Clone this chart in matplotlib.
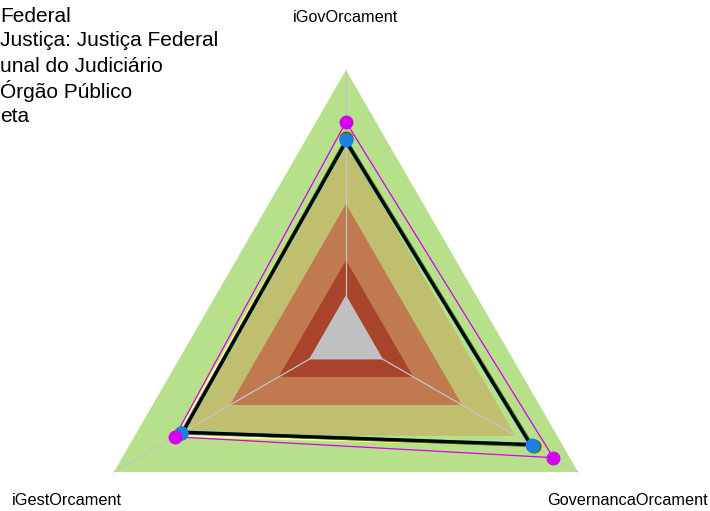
import numpy as np
import matplotlib
matplotlib.use("Agg")
import matplotlib.pyplot as plt

plt.rcParams['font.family'] = ['Liberation Sans', 'DejaVu Sans']

# axes of the radar, clockwise from the top
eixos = ["iGovOrcament", "GovernancaOrcament", "iGestOrcament"]
angulos = np.deg2rad([90, -30, 210])

# background bands (outer limit of each level)
faixas = [1.0, 0.73, 0.50, 0.29, 0.16]
cores_faixas = ["#b7e08b", "#c0bf70", "#c17a50", "#a8432c", "#c0c0c0"]

# visible part of the legend (cut at the left edge)
legenda = ["Federal", "Justiça: Justiça Federal", "unal do Judiciário",
           "Órgão Público", "eta"]

# series values, order of eixos
meta = [0.806, 0.893, 0.737]
serie_amarela = [0.738, 0.803, 0.735]
serie_branca = [0.736, 0.800, 0.728]
serie_vermelha = [0.745, 0.808, 0.712]
serie_verde = [0.743, 0.806, 0.711]
serie_ciano = [0.724, 0.786, 0.696]
serie_azul = [0.739, 0.800, 0.710]
serie_preta = [0.733, 0.795, 0.703]

series = [
    (serie_amarela, "#ffff40", 1.0, None),
    (serie_branca, "#ffffff", 0.8, None),
    (serie_vermelha, "#c01010", 1.1, "o"),
    (serie_verde, "#10b010", 1.1, "o"),
    (serie_ciano, "#00c8d8", 1.0, None),
    (serie_azul, "#1a7fe8", 1.0, "o"),
    (serie_preta, "#000000", 2.3, None),
    (meta, "#d400ee", 0.9, "o"),
]


def xy(valores):
    v = np.array(list(valores) + [valores[0]])
    a = np.append(angulos, angulos[0])
    return v * np.cos(a), v * np.sin(a)


W, H = 710, 511
cx, cy, R = 346, 338, 268

fig = plt.figure(figsize=(W / 100, H / 100), dpi=100)
ax = fig.add_axes([0, 0, 1, 1])
ax.set_xlim(-cx / R, (W - cx) / R)
ax.set_ylim(-(H - cy) / R, cy / R)
ax.axis("off")

for r, c in zip(faixas, cores_faixas):
    x, y = xy([r, r, r])
    ax.fill(x, y, color=c, lw=0, zorder=1)

for a in angulos:
    ax.plot([0, np.cos(a)], [0, np.sin(a)], color="#c4c4c4", lw=0.9, zorder=2)

for valores, cor, lw, mk in series:
    x, y = xy(valores)
    ax.plot(x, y, color=cor, lw=lw, zorder=3)
    if mk:
        ax.plot(x[:-1], y[:-1], mk, color=cor, ms=9, zorder=4)

ax.text(0, (cy - 17) / R, eixos[0], ha="center", va="center", fontsize=11.7)
ax.text((547 - cx) / R, -(500 - cy) / R, eixos[1], ha="left", va="center", fontsize=11.7)
ax.text((12 - cx) / R, -(500 - cy) / R, eixos[2], ha="left", va="center", fontsize=11.7)

for i, txt in enumerate(legenda):
    fig.text(0, 1 - (16 + 25 * i) / H, txt, ha="left", va="center", fontsize=15)

fig.savefig("out.png", dpi=100)
